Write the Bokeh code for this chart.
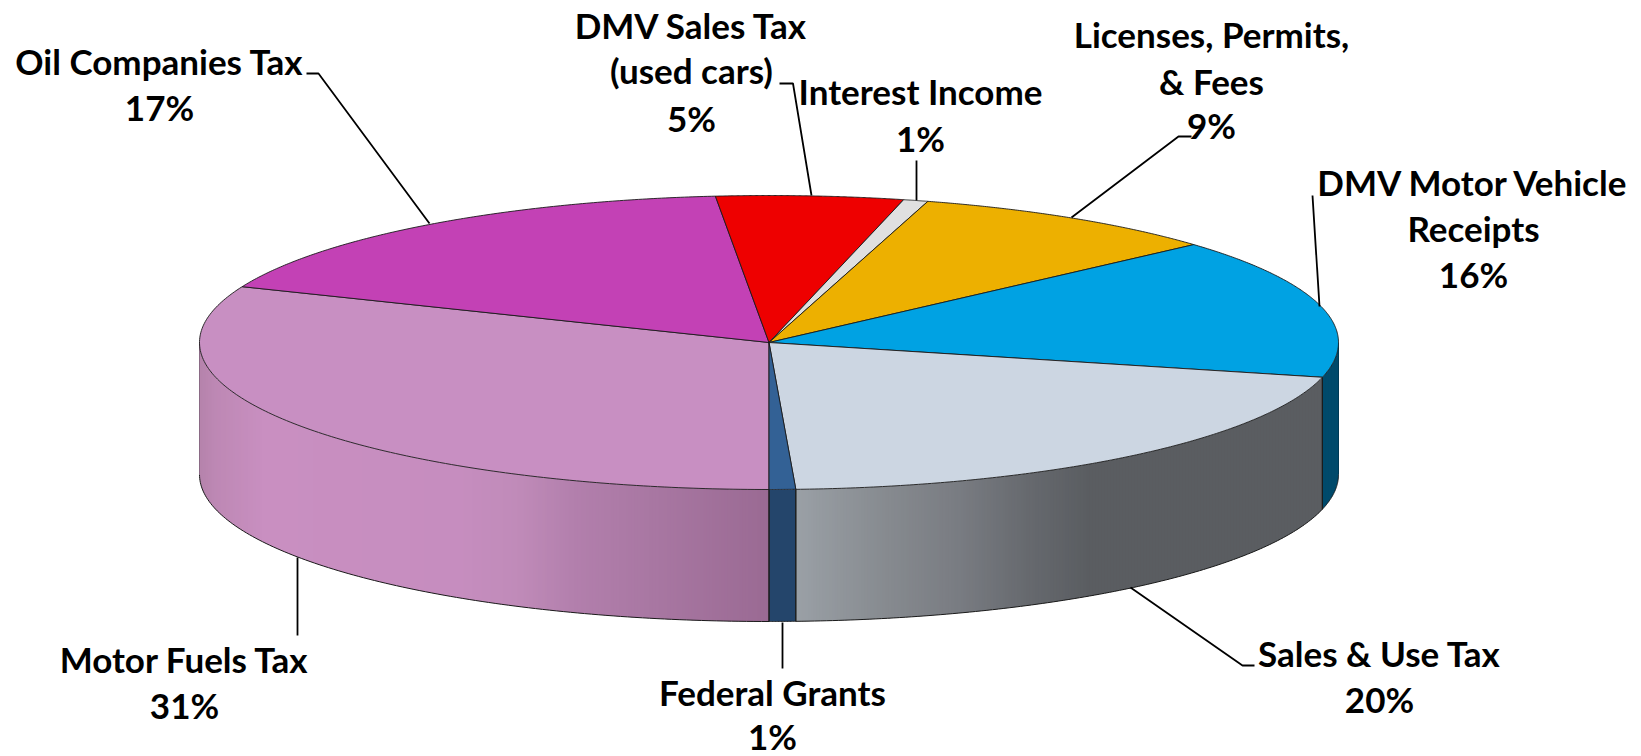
import numpy as np
from bokeh.plotting import figure
from bokeh.models import Range1d
from bokeh.core.properties import value
from bokeh.embed import file_html
from bokeh.resources import INLINE

# ---- data
categories = ["Motor Fuels Tax", "Oil Companies Tax", "DMV Sales Tax (used cars)", "Interest Income",
              "Licenses, Permits, & Fees", "DMV Motor Vehicle Receipts", "Sales & Use Tax", "Federal Grants"]
shares = [31.2, 17.3, 5.3, 0.7, 8.9, 15.4, 20.45, 0.75]
percent_labels = ["31%", "17%", "5%", "1%", "9%", "16%", "20%", "1%"]
label_lines = [["Motor Fuels Tax"], ["Oil Companies Tax"], ["DMV Sales Tax", "(used cars)"], ["Interest Income"],
               ["Licenses, Permits,", "& Fees"], ["DMV Motor Vehicle", "Receipts"], ["Sales & Use Tax"], ["Federal Grants"]]

# ---- colours
top_colors = ["#c88fc2", "#c341b5", "#ee0000", "#e0e0e0", "#edb000", "#00a2e3", "#ccd6e2", "#336195"]
side_stops = {
    0: ([199, 215, 265, 457, 516, 575, 654, 769],
        ["#b583ab", "#bd88b4", "#c98fc1", "#c68dbf", "#c08bb9", "#b27fac", "#a877a2", "#9a6a93"]),
    6: ([796, 883, 958, 1033, 1090, 1321], ["#9aa0a6", "#878b90", "#797c82", "#65686d", "#5a5d61", "#5a5d61"]),
    5: ([1321, 1338], ["#004a6b", "#004a6b"]),
    7: ([769, 796], ["#24456b", "#24456b"]),
}

# ---- layout (screen pixels of the 1641x756 page)
CX, CY, RX, RY, DEPTH = 768.5, 342.0, 569.5, 147.0, 132.0
FONT_SIZE = "35px"
label_x = [184, 159, 691, 920, 1211, 1473, 1379, 772]
label_y = [[658, 704], [60, 106], [24, 69.5, 117], [90, 137.5], [33, 80.5, 124],
           [181, 227.5, 273], [652, 698.5], [691, 735]]
leaders = [
    [(297, 557), (297, 635)],
    [(306, 73), (318, 73), (429, 223)],
    [(779, 83), (792.5, 83), (811, 195)],
    [(916, 160), (916, 200)],
    [(1191, 136), (1178, 136), (1071, 217)],
    [(1312, 195), (1319, 306)],
    [(1130, 587), (1242, 665), (1254, 665)],
    [(782, 622), (782, 668)],
]

def ex(a):
    return CX + RX * np.cos(np.radians(a))

def ey(a, dz=0.0):
    return CY - RY * np.sin(np.radians(a)) + dz

def hex2rgb(h):
    return np.array([int(h[i:i + 2], 16) for i in (1, 3, 5)], float)

def grad(stops, colors, x):
    rgb = np.array([hex2rgb(c) for c in colors])
    return "#%02x%02x%02x" % tuple(int(round(np.interp(x, stops, rgb[:, k]))) for k in range(3))

# slice boundaries: start at the bottom, go clockwise
total = sum(shares)
bounds = 270.0 - np.concatenate([[0], np.cumsum(shares)]) * 360.0 / total

p = figure(width=1641, height=756, output_backend="svg", toolbar_location=None,
           x_range=Range1d(0, 1641), y_range=Range1d(756, 0),
           x_axis_type=None, y_axis_type=None, min_border=0,
           outline_line_color=None, background_fill_color="white", border_fill_color="white")
p.grid.visible = False

EDGE = "#1a1a1a"

# ---- side walls (only the part facing the viewer, 180..360 deg)
wall_spans = {}
for i in (0, 7, 6, 5):
    a1, a0 = bounds[i] % 360, bounds[i + 1] % 360
    lo, hi = a0, a1
    if hi <= lo:
        hi += 360
    if i == 5:            # this slice crosses 0 deg: its wall ends at the rim
        lo, hi = lo, 360.0
    wall_spans[i] = (max(lo, 180.0), min(hi, 360.0))

strip_xs, strip_ys, strip_cols = [], [], []
for i, (lo, hi) in wall_spans.items():
    stops, cols = side_stops[i]
    xa, xb = sorted((ex(lo), ex(hi)))
    xgrid = np.append(np.arange(xa, xb, 3.0), xb)
    for k in range(len(xgrid) - 1):
        # overlap the next strip by a pixel so that no seams show
        x0, x1 = xgrid[k], min(xgrid[k + 1] + 1.0, xb)
        a0 = 360 - np.degrees(np.arccos(np.clip((x0 - CX) / RX, -1, 1)))
        a1 = 360 - np.degrees(np.arccos(np.clip((x1 - CX) / RX, -1, 1)))
        ar = np.linspace(a0, a1, 4)
        strip_xs.append(list(ex(ar)) + list(ex(ar[::-1])))
        strip_ys.append(list(ey(ar)) + list(ey(ar[::-1], DEPTH)))
        strip_cols.append(grad(stops, cols, (xgrid[k] + xgrid[k + 1]) / 2))
p.patches(strip_xs, strip_ys, fill_color=strip_cols, line_color=None)

# wall outlines
for i, (lo, hi) in wall_spans.items():
    ar = np.linspace(lo, hi, 120)
    p.line(ex(ar), ey(ar, DEPTH), line_color=EDGE, line_width=1)
    for a in (lo, hi):
        if 180 < a < 360:
            p.line([ex(a), ex(a)], [ey(a), ey(a, DEPTH)], line_color=EDGE, line_width=1)
p.line([ex(180), ex(180)], [CY, CY + DEPTH], line_color="#8a6a85", line_width=1)
p.line([ex(360), ex(360)], [CY, CY + DEPTH], line_color="#003a55", line_width=1)

# ---- top face
for i, c in enumerate(top_colors):
    ar = np.linspace(bounds[i], bounds[i + 1], 160)
    xs = [CX] + list(ex(ar))
    ys = [CY] + list(ey(ar))
    p.patch(xs, ys, fill_color=c, line_color=EDGE, line_width=0.9)

# ---- leader lines
for pts in leaders:
    p.line([q[0] for q in pts], [q[1] for q in pts], line_color="black", line_width=1.8)

# ---- labels
tx, ty, tt = [], [], []
for cx, ys_, lines, pct in zip(label_x, label_y, label_lines, percent_labels):
    for y_, t in zip(ys_, lines + [pct]):
        tx.append(cx)
        ty.append(y_)
        tt.append(t)
p.text(tx, ty, text=tt, text_font=value("Lato"), text_font_style="bold",
       text_font_size=FONT_SIZE, text_color="black", text_align="center", text_baseline="middle")

open("out.html", "w").write(file_html(p, INLINE))
